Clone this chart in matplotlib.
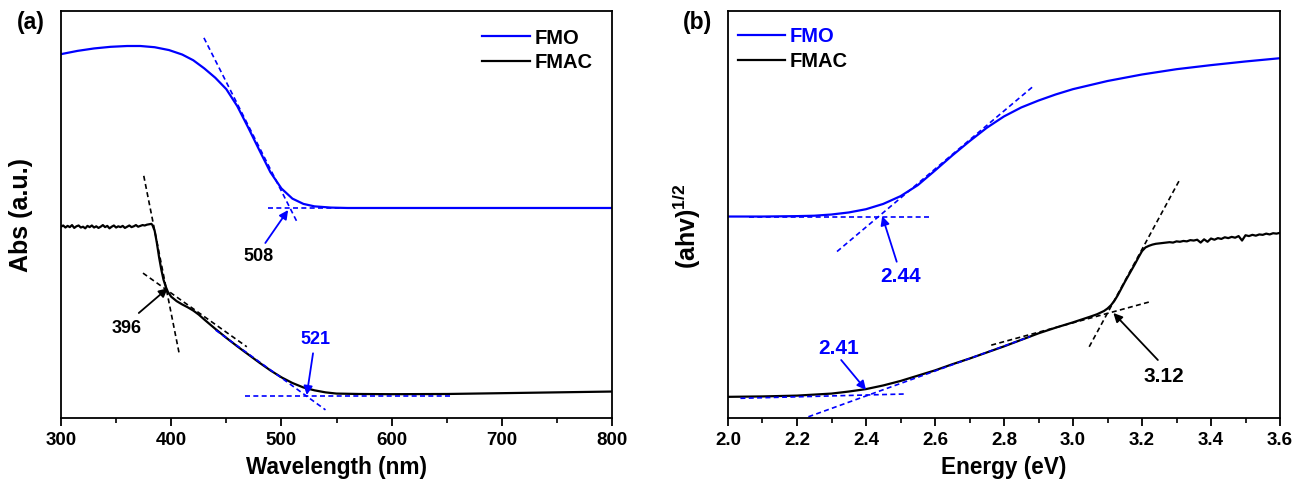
import matplotlib
matplotlib.use("Agg")
import matplotlib.pyplot as plt
import numpy as np

plt.rcParams['font.family'] = ['Liberation Sans', 'DejaVu Sans']
plt.rcParams['font.weight'] = 'bold'
plt.rcParams['mathtext.fontset'] = 'custom'
plt.rcParams['mathtext.bf'] = 'Liberation Sans:bold'
plt.rcParams['mathtext.rm'] = 'Liberation Sans:bold'
plt.rcParams['mathtext.default'] = 'bf'

BLUE = '#0000ff'

# ---------------- Panel (a): absorbance vs wavelength ----------------
fmo_a_x = [300, 315, 330, 345, 360, 372, 385, 398, 410, 420, 430, 440, 450, 460,
           470, 480, 490, 500, 510, 520, 530, 545, 560, 600, 650, 700, 750, 800]
fmo_a_y = [89.4, 90.2, 90.8, 91.2, 91.4, 91.4, 91.1, 90.4, 89.3, 87.9, 85.9, 83.6,
           80.8, 76.6, 71.3, 65.8, 60.4, 56.4, 53.9, 52.6, 52.0, 51.7, 51.6, 51.6,
           51.6, 51.6, 51.6, 51.6]

fmac_a_x = [300, 302, 304, 306, 308, 310, 312, 314, 316, 318, 320, 322, 324, 326,
            328, 330, 332, 334, 336, 338, 340, 342, 344, 346, 348, 350, 352, 354,
            356, 358, 360, 362, 364, 366, 368, 370, 372, 374, 376, 378, 380, 382,
            383, 385, 387, 389, 391, 393, 395, 397, 400, 405, 410, 415, 420, 425,
            430, 440, 450, 460, 470, 480, 490, 500, 510, 520, 530, 540, 550, 570,
            600, 650, 700, 750, 800]
fmac_a_y = [47.0, 47.3, 46.8, 47.2, 46.9, 47.4, 46.7, 47.1, 47.3, 46.8, 47.0, 46.6,
            47.2, 46.9, 47.3, 46.8, 47.1, 46.7, 47.0, 47.4, 46.9, 47.2, 46.6, 47.0,
            47.3, 46.8, 47.1, 46.9, 47.2, 46.7, 47.0, 47.3, 46.9, 47.1, 47.4, 47.0,
            47.2, 47.4, 47.3, 47.5, 47.6, 47.7, 47.4, 46.0, 43.0, 39.5, 36.5, 34.0,
            32.3, 31.0, 29.8, 28.7, 27.9, 27.2, 26.4, 25.4, 24.2, 21.9, 19.7, 17.6,
            15.6, 13.6, 11.7, 10.0, 8.6, 7.5, 6.8, 6.3, 6.0, 5.9, 5.85, 5.9, 6.1,
            6.3, 6.5]

# tangent / baseline construction lines (a)
fmo_a_tan_x, fmo_a_tan_y = [429.7, 514.7], [93.4, 47.9]
fmo_a_base_x, fmo_a_base_y = [487.4, 639.5], [51.6, 51.6]
fmac_a_steep_x, fmac_a_steep_y = [375.1, 407.5], [59.5, 15.5]
fmac_a_shoulder_x, fmac_a_shoulder_y = [374.4, 468.6], [35.6, 17.5]
fmac_a_tan_x, fmac_a_tan_y = [440.3, 540.0], [21.6, 2.0]
fmac_a_base_x, fmac_a_base_y = [466.6, 654.9], [5.48, 5.48]

# ---------------- Panel (b): Tauc plot ----------------
fmo_b_x = [2.00, 2.10, 2.20, 2.25, 2.30, 2.35, 2.40, 2.45, 2.50, 2.55, 2.60, 2.65,
           2.70, 2.75, 2.80, 2.85, 2.90, 2.95, 3.00, 3.10, 3.20, 3.30, 3.40, 3.50, 3.60]
fmo_b_y = [49.5, 49.5, 49.6, 49.7, 50.0, 50.5, 51.3, 52.6, 54.5, 57.2, 60.8, 64.5,
           68.0, 71.3, 74.1, 76.3, 78.0, 79.5, 80.8, 82.8, 84.4, 85.7, 86.7, 87.6, 88.4]

fmac_b_x = [2.00, 2.10, 2.20, 2.30, 2.35, 2.40, 2.45, 2.50, 2.55, 2.60, 2.65, 2.70,
            2.75, 2.80, 2.85, 2.90, 2.95, 3.00, 3.05, 3.07, 3.09, 3.10, 3.11, 3.12,
            3.13, 3.14, 3.15, 3.16, 3.17, 3.18, 3.19, 3.20, 3.21, 3.22, 3.23, 3.24,
            3.25, 3.26, 3.27, 3.28, 3.29, 3.30, 3.31, 3.32, 3.33, 3.34, 3.35, 3.36,
            3.37, 3.38, 3.39, 3.40, 3.41, 3.42, 3.43, 3.44, 3.45, 3.46, 3.47, 3.48,
            3.49, 3.50, 3.51, 3.52, 3.53, 3.54, 3.55, 3.56, 3.57, 3.58, 3.59, 3.60]
fmac_b_y = [5.2, 5.3, 5.5, 6.0, 6.5, 7.1, 8.0, 9.1, 10.4, 11.7, 13.2, 14.6, 16.1,
            17.6, 19.2, 20.8, 22.2, 23.5, 24.9, 25.5, 26.3, 26.9, 27.7, 28.8, 30.2,
            31.8, 33.4, 34.9, 36.4, 37.9, 39.5, 41.0, 41.9, 42.3, 42.6, 42.8, 42.9,
            43.0, 43.1, 43.2, 43.1, 43.4, 43.3, 43.5, 43.4, 43.7, 43.6, 43.8, 43.1,
            43.9, 43.3, 44.1, 43.8, 44.2, 44.0, 44.4, 44.2, 44.5, 44.3, 44.7, 43.6,
            44.9, 44.7, 45.0, 44.8, 45.1, 45.0, 45.3, 45.1, 45.4, 45.3, 45.5]

fmo_b_tan_x, fmo_b_tan_y = [2.316, 2.882], [40.9, 81.3]
fmo_b_base_x, fmo_b_base_y = [2.060, 2.590], [49.5, 49.5]
fmac_b_tan_x, fmac_b_tan_y = [2.233, 2.876], [0.3, 20.0]
fmac_b_base_x, fmac_b_base_y = [2.036, 2.513], [4.84, 5.9]
fmac_b_steep_x, fmac_b_steep_y = [3.047, 3.309], [17.5, 58.5]
fmac_b_shallow_x, fmac_b_shallow_y = [2.763, 3.225], [17.9, 28.6]

# annotations: (label, text xy, arrow tail, arrow head, text colour, arrow colour)
ann_a = [("508", (479.4, 39.6), (485.4, 43.0), (506.1, 51.1), 'black', BLUE),
         ("396", (359.2, 22.0), (370.6, 25.8), (396.9, 31.9), 'black', 'black'),
         ("521", (530.6, 19.2), (528.7, 15.9), (523.0, 5.65), BLUE, BLUE)]
ann_b = [("2.44", (2.500, 34.7), (2.489, 38.4), (2.447, 49.6), BLUE, BLUE),
         ("2.41", (2.322, 17.1), (2.328, 14.25), (2.400, 6.9), BLUE, BLUE),
         ("3.12", (3.263, 10.1), (3.246, 14.25), (3.117, 25.8), 'black', 'black')]

W, H = 1294, 488
fig = plt.figure(figsize=(W / 100, H / 100), dpi=100)
ax1 = fig.add_axes([61 / W, 70 / H, 551 / W, 407 / H])
ax2 = fig.add_axes([728 / W, 70 / H, 552 / W, 407 / H])

LW = 1.6
DLW = 1.2
dash = (0, (3, 2))

# panel a
ax1.plot(fmo_a_x, fmo_a_y, color=BLUE, lw=LW, label='FMO')
ax1.plot(fmac_a_x, fmac_a_y, color='black', lw=LW, label='FMAC')
for xs, ys, c in [(fmo_a_tan_x, fmo_a_tan_y, BLUE), (fmo_a_base_x, fmo_a_base_y, BLUE),
                  (fmac_a_steep_x, fmac_a_steep_y, 'black'),
                  (fmac_a_shoulder_x, fmac_a_shoulder_y, 'black'),
                  (fmac_a_tan_x, fmac_a_tan_y, BLUE), (fmac_a_base_x, fmac_a_base_y, BLUE)]:
    ax1.plot(xs, ys, color=c, lw=DLW, linestyle=dash)

# panel b
ax2.plot(fmo_b_x, fmo_b_y, color=BLUE, lw=LW, label='FMO')
ax2.plot(fmac_b_x, fmac_b_y, color='black', lw=LW, label='FMAC')
for xs, ys, c in [(fmo_b_tan_x, fmo_b_tan_y, BLUE), (fmo_b_base_x, fmo_b_base_y, BLUE),
                  (fmac_b_tan_x, fmac_b_tan_y, BLUE), (fmac_b_base_x, fmac_b_base_y, BLUE),
                  (fmac_b_steep_x, fmac_b_steep_y, 'black'),
                  (fmac_b_shallow_x, fmac_b_shallow_y, 'black')]:
    ax2.plot(xs, ys, color=c, lw=DLW, linestyle=dash)

for ax, anns, fs in [(ax1, ann_a, 13), (ax2, ann_b, 15)]:
    for lab, txy, tail, head, tc, ac in anns:
        ax.annotate('', xy=head, xytext=tail,
                    arrowprops=dict(arrowstyle='-|>', color=ac, lw=1.3,
                                    mutation_scale=13, shrinkA=0, shrinkB=0))
        ax.text(txy[0], txy[1], lab, color=tc, fontsize=fs, fontweight='bold',
                ha='center', va='center')

ax1.set_xlim(300, 800)
ax1.set_xticks([300, 400, 500, 600, 700, 800])
ax1.set_xticks(np.arange(350, 800, 100), minor=True)
ax2.set_xlim(2.0, 3.6)
ax2.set_xticks([2.0, 2.2, 2.4, 2.6, 2.8, 3.0, 3.2, 3.4, 3.6])
ax2.set_xticklabels(['2.0', '2.2', '2.4', '2.6', '2.8', '3.0', '3.2', '3.4', '3.6'])
ax2.set_xticks(np.arange(2.1, 3.6, 0.2), minor=True)

for ax in (ax1, ax2):
    ax.set_ylim(0, 100)
    ax.set_yticks([])
    for s in ax.spines.values():
        s.set_linewidth(1.3)
    ax.tick_params(axis='x', which='major', direction='out', length=6, width=1.3,
                   labelsize=13.5, pad=4)
    ax.tick_params(axis='x', which='minor', direction='out', length=3.5, width=1.2)
    for t in ax.get_xticklabels():
        t.set_fontweight('bold')

ax1.set_xlabel('Wavelength (nm)', fontsize=16.3, fontweight='bold', labelpad=5)
ax2.set_xlabel('Energy (eV)', fontsize=16.3, fontweight='bold', labelpad=5)
ax1.set_ylabel('Abs (a.u.)', fontsize=18, fontweight='bold')
ax2.set_ylabel(r'(ahv)$^{\mathbf{1/2}}$', fontsize=18, fontweight='bold')
ax1.yaxis.set_label_coords(-28 / 551, 0.50)
ax2.yaxis.set_label_coords(-25 / 552, 0.47)

leg_kw = dict(frameon=False, prop={'weight': 'bold', 'size': 14.5}, handlelength=2.35,
              handletextpad=0.22, labelspacing=0.28, borderaxespad=0, borderpad=0)
leg1 = ax1.legend(loc='upper right', bbox_to_anchor=(0.964, 0.957), **leg_kw)
leg2 = ax2.legend(loc='upper left', bbox_to_anchor=(0.018, 0.96), **leg_kw)
leg2.get_texts()[0].set_color(BLUE)

fig.text(31 / W, 1 - 23 / H, '(a)', fontsize=16.5, fontweight='bold', ha='center', va='center')
fig.text(697 / W, 1 - 23 / H, '(b)', fontsize=16.5, fontweight='bold', ha='center', va='center')

fig.savefig('out.png', dpi=100)
